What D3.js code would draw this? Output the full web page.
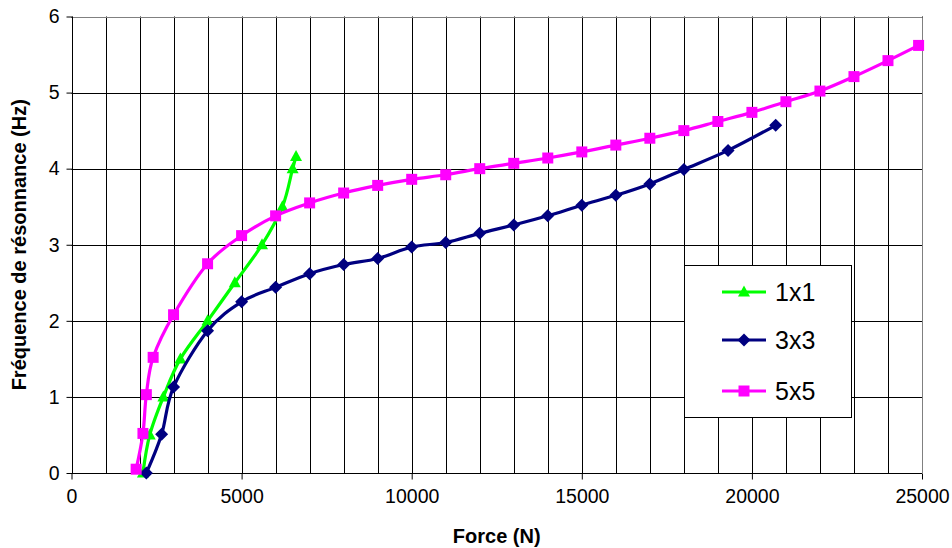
<!DOCTYPE html>
<html>
<head>
<meta charset="utf-8">
<script src="https://cdn.jsdelivr.net/npm/d3@7"></script>
<style>
  html, body { margin: 0; padding: 0; background: #fff; }
  svg { display: block; }
  text { font-family: "Liberation Sans", Arial, sans-serif; fill: #000; }
</style>
</head>
<body>
<svg id="chart" width="952" height="548"></svg>
<script>
// Resonance frequency vs applied force, three grid configurations
const seriesNames = ["1x1", "3x3", "5x5"];
const seriesColors = ["#00ff00", "#000080", "#ff00ff"];

const force1x1 = [2100, 2300, 2700, 3200, 4000, 4800, 5600, 6200, 6500, 6600];
const freq1x1  = [0, 0.5, 1.0, 1.5, 2.0, 2.5, 3.0, 3.5, 4.0, 4.16];

const force3x3 = [2200, 2650, 3000, 4000, 5000, 6000, 7000, 8000, 9000, 10000, 11000, 12000, 13000,
                  14000, 15000, 16000, 17000, 18000, 19300, 20700];
const freq3x3  = [0, 0.51, 1.13, 1.87, 2.25, 2.44, 2.62, 2.74, 2.82, 2.97, 3.03, 3.15, 3.26,
                  3.38, 3.52, 3.65, 3.80, 3.99, 4.24, 4.57];

const force5x5 = [1900, 2100, 2200, 2400, 3000, 4000, 5000, 6000, 7000, 8000, 9000, 10000, 11000,
                  12000, 13000, 14000, 15000, 16000, 17000, 18000, 19000, 20000, 21000, 22000,
                  23000, 24000, 24900];
const freq5x5  = [0.05, 0.52, 1.03, 1.52, 2.08, 2.75, 3.12, 3.38, 3.55, 3.68, 3.78, 3.86, 3.92,
                  4.0, 4.07, 4.14, 4.22, 4.31, 4.40, 4.50, 4.62, 4.74, 4.88, 5.02,
                  5.21, 5.42, 5.62];

const xTicks = [0, 5000, 10000, 15000, 20000, 25000];
const yTicks = [0, 1, 2, 3, 4, 5, 6];
const xGrid = d3.range(0, 25001, 1000);

const seriesData = [
  { name: seriesNames[0], color: seriesColors[0], marker: "triangle", xs: force1x1, ys: freq1x1 },
  { name: seriesNames[1], color: seriesColors[1], marker: "diamond",  xs: force3x3, ys: freq3x3 },
  { name: seriesNames[2], color: seriesColors[2], marker: "square",   xs: force5x5, ys: freq5x5 }
];

const svg = d3.select("#chart");
const plotLeft = 71.5, plotRight = 922, plotTop = 16.5, plotBottom = 473;

const x = d3.scaleLinear().domain([0, 25000]).range([plotLeft, plotRight]);
const y = d3.scaleLinear().domain([0, 6]).range([plotBottom, plotTop]);

// Gridlines
const grid = svg.append("g");
grid.selectAll("line.v").data(xGrid.slice(1)).join("line")
  .attr("x1", d => Math.round(x(d)) + 0.5).attr("x2", d => Math.round(x(d)) + 0.5)
  .attr("y1", plotTop).attr("y2", plotBottom)
  .attr("stroke", "#000").attr("stroke-width", 1);
grid.selectAll("line.h").data(yTicks.slice(1)).join("line")
  .attr("x1", plotLeft).attr("x2", plotRight)
  .attr("y1", d => Math.round(y(d)) + 0.5).attr("y2", d => Math.round(y(d)) + 0.5)
  .attr("stroke", "#000").attr("stroke-width", 1);

// Plot frame (top and right)
svg.append("path")
  .attr("d", `M${plotLeft},${Math.round(plotTop) + 0.5}H${Math.round(plotRight) + 0.5}V${plotBottom}`)
  .attr("fill", "none").attr("stroke", "#808080").attr("stroke-width", 1);

// Axes
const xAxis = d3.axisBottom(x).tickValues(xTicks).tickFormat(d3.format("d")).tickSize(6).tickPadding(10);
const yAxis = d3.axisLeft(y).tickValues(yTicks).tickFormat(d3.format("d")).tickSize(6).tickPadding(7);

const gx = svg.append("g").attr("transform", `translate(0,${Math.round(plotBottom) + 0.5})`).call(xAxis);
const gy = svg.append("g").attr("transform", `translate(${Math.round(plotLeft) + 0.5},0)`).call(yAxis);
[gx, gy].forEach(g => {
  g.select(".domain").attr("stroke", "#000");
  g.selectAll(".tick line").attr("stroke", "#000");
  g.selectAll(".tick text").attr("font-size", 19.5).attr("font-family", "Liberation Sans, Arial, sans-serif").attr("fill", "#000");
});
gx.select(".domain").attr("d", `M${plotLeft},0H${plotRight}`);
gy.select(".domain").attr("d", `M0,${plotBottom}V${plotTop}`);

// Axis titles
svg.append("text")
  .attr("x", (plotLeft + plotRight) / 2).attr("y", 543)
  .attr("text-anchor", "middle").attr("font-size", 20).attr("font-weight", "bold")
  .text("Force (N)");
svg.append("text")
  .attr("transform", `translate(26,${(plotTop + plotBottom) / 2}) rotate(-90)`)
  .attr("text-anchor", "middle").attr("font-size", 20).attr("font-weight", "bold")
  .text("Fréquence de résonnance (Hz)");

// Marker shapes
function markerPath(type) {
  if (type === "triangle") return "M0,-6.5L6,4.5L-6,4.5Z";
  if (type === "diamond") return "M0,-6.5L6.5,0L0,6.5L-6.5,0Z";
  return "M-5.5,-5.5H5.5V5.5H-5.5Z";
}

const line = d3.line().curve(d3.curveCatmullRom.alpha(0)).x(d => x(d[0])).y(d => y(d[1]));

seriesData.forEach(s => {
  const pts = s.xs.map((v, i) => [v, s.ys[i]]);
  const g = svg.append("g");
  g.append("path").attr("d", line(pts))
    .attr("fill", "none").attr("stroke", s.color).attr("stroke-width", 3.2)
    .attr("stroke-linejoin", "round");
  g.selectAll("path.m").data(pts).join("path").attr("class", "m")
    .attr("d", markerPath(s.marker))
    .attr("transform", d => `translate(${x(d[0])},${y(d[1])})`)
    .attr("fill", s.color);
});

// Legend
const lg = svg.append("g");
lg.append("rect").attr("x", 684.5).attr("y", 265.5).attr("width", 167).attr("height", 152)
  .attr("fill", "#fff").attr("stroke", "#000").attr("stroke-width", 1);
const rowY = [292, 340, 391];
seriesData.forEach((s, i) => {
  const ry = rowY[i];
  lg.append("line").attr("x1", 722).attr("x2", 766).attr("y1", ry).attr("y2", ry)
    .attr("stroke", s.color).attr("stroke-width", 3.2);
  lg.append("path").attr("d", markerPath(s.marker)).attr("transform", `translate(744,${ry})`).attr("fill", s.color);
  lg.append("text").attr("x", 775).attr("y", ry + 9).attr("font-size", 25).text(s.name);
});
</script>
</body>
</html>
